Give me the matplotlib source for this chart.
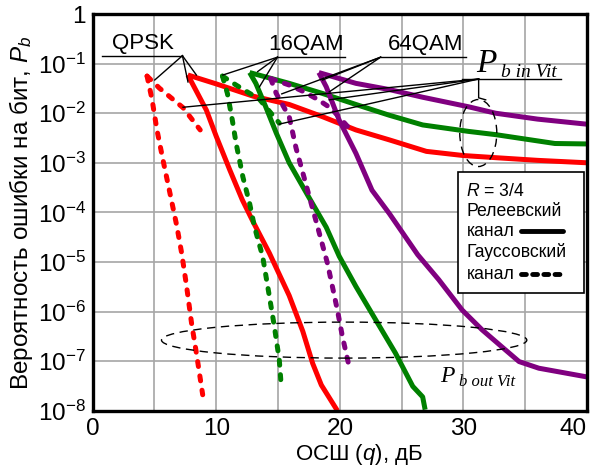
import matplotlib
matplotlib.use("Agg")
import matplotlib.pyplot as plt
from matplotlib.patches import Ellipse, Rectangle
from matplotlib.lines import Line2D

plt.rcParams['font.family'] = ['Liberation Sans', 'DejaVu Sans']
plt.rcParams['mathtext.fontset'] = 'custom'
plt.rcParams['mathtext.rm'] = 'Liberation Sans'
plt.rcParams['mathtext.it'] = 'Liberation Sans:italic'

# ================================================
# Data (x: SNR in dB, y: bit error probability)
# ================================================
# QPSK, Gaussian channel
qpsk_awgn_out_x = [4.4, 4.8, 5.2, 5.7, 6.2, 6.8, 7.2, 7.6, 8.0, 8.4, 8.9]
qpsk_awgn_out_y = [5.6e-2, 1.9e-2, 4.6e-3, 1.1e-3, 2.8e-4, 5.4e-5, 1.5e-5, 3.2e-6, 5.8e-7, 1.4e-7, 2.1e-8]
qpsk_awgn_in_x = [4.4, 5.4, 7.3, 8.7]
qpsk_awgn_in_y = [5.6e-2, 3.2e-2, 1.3e-2, 4.6e-3]
# QPSK, Rayleigh channel
qpsk_ray_out_x = [7.7, 9.2, 10.0, 11.1, 12.1, 13.0, 14.3, 15.9, 17.0, 17.8, 18.5, 19.8]
qpsk_ray_out_y = [5.9e-2, 1.15e-2, 3.4e-3, 7.1e-4, 1.8e-4, 6.3e-5, 1.5e-5, 2.1e-6, 4.0e-7, 9.0e-8, 3.3e-8, 1.0e-8]
qpsk_ray_in_x = [7.7, 10.0, 13.0, 15.9, 18.6, 21.3, 24.0, 27.0, 30.0, 33.0, 36.0, 40.0]
qpsk_ray_in_y = [5.9e-2, 3.9e-2, 2.2e-2, 1.5e-2, 8.5e-3, 4.6e-3, 2.9e-3, 1.7e-3, 1.4e-3, 1.25e-3, 1.12e-3, 1.0e-3]
# 16QAM, Gaussian channel
qam16_awgn_out_x = [10.5, 10.9, 11.3, 11.6, 12.15, 12.7, 13.1, 13.75, 14.3, 14.7, 15.1, 15.25]
qam16_awgn_out_y = [5.6e-2, 2.5e-2, 7.2e-3, 2.5e-3, 5.2e-4, 1.5e-4, 5.0e-5, 1.3e-5, 2.0e-6, 5.0e-7, 1.05e-7, 3.3e-8]
qam16_awgn_in_x = [10.5, 11.6, 13.5, 15.1]
qam16_awgn_in_y = [5.6e-2, 3.7e-2, 1.9e-2, 6.3e-3]
# 16QAM, Rayleigh channel
qam16_ray_out_x = [12.7, 13.2, 14.0, 14.85, 15.9, 17.5, 18.9, 19.95, 21.3, 22.9, 24.5, 25.9, 26.7, 26.9]
qam16_ray_out_y = [6.6e-2, 4.0e-2, 1.35e-2, 4.0e-3, 1.0e-3, 2.0e-4, 5.0e-5, 1.3e-5, 3.2e-6, 6.8e-7, 1.45e-7, 3.1e-8, 1.9e-8, 1.05e-8]
qam16_ray_in_x = [12.7, 15.9, 18.6, 21.3, 24.0, 26.7, 30.4, 32.6, 37.4, 40.0]
qam16_ray_in_y = [6.6e-2, 4.0e-2, 2.5e-2, 1.5e-2, 9.1e-3, 5.8e-3, 4.3e-3, 3.7e-3, 2.45e-3, 2.4e-3]
# 64QAM, Gaussian channel
qam64_awgn_out_x = [14.4, 14.85, 15.9, 16.45, 17.0, 17.5, 18.1, 19.0, 19.8, 20.2, 20.75]
qam64_awgn_out_y = [5.0e-2, 2.5e-2, 8.5e-3, 2.0e-3, 6.3e-4, 2.2e-4, 6.3e-5, 9.3e-6, 1.07e-6, 3.2e-7, 7.8e-8]
qam64_awgn_in_x = [14.4, 15.9, 17.1, 18.2, 19.3, 20.75]
qam64_awgn_in_y = [5.0e-2, 3.7e-2, 2.7e-2, 1.9e-2, 1.25e-2, 5.0e-3]
# 64QAM, Rayleigh channel
qam64_ray_out_x = [18.3, 18.9, 19.95, 21.3, 22.6, 24.0, 26.3, 28.0, 29.9, 31.5, 33.1, 34.5, 36.1, 40.0]
qam64_ray_out_y = [6.6e-2, 3.4e-2, 7.2e-3, 1.55e-3, 2.8e-4, 9.5e-5, 1.4e-5, 4.4e-6, 1.07e-6, 4.3e-7, 1.95e-7, 9.8e-8, 7.2e-8, 4.8e-8]
qam64_ray_in_x = [18.3, 21.3, 24.0, 26.7, 30.4, 32.6, 36.0, 40.0]
qam64_ray_in_y = [6.6e-2, 4.0e-2, 3.0e-2, 2.1e-2, 1.35e-2, 1.0e-2, 7.6e-3, 6.0e-3]

x_ticks = [0, 10, 20, 30, 40]
x_tick_labels = ['0', '10', '20', '30', '40']
y_ticks = [1, 1e-1, 1e-2, 1e-3, 1e-4, 1e-5, 1e-6, 1e-7, 1e-8]
y_tick_labels = ['1'] + ['$10^{-%d}$' % k for k in range(1, 9)]

RED, GREEN, PURPLE = '#ff0000', '#008000', '#800080'
SOLID = dict(lw=3.6, solid_capstyle='butt', solid_joinstyle='round')
DOTS = dict(lw=3.6, linestyle=(0, (1.0, 1.9)), dash_capstyle='round')

# ================================================
# Figure
# ================================================
fig = plt.figure(figsize=(5.95, 4.68), dpi=100)
ax = fig.add_axes([0.1558, 0.1224, 0.8308, 0.8476])
ax.set_yscale('log')
ax.set_xlim(0, 40)
ax.set_ylim(1e-8, 1)

curves = [
    (qpsk_awgn_out_x, qpsk_awgn_out_y, RED, DOTS),
    (qpsk_awgn_in_x, qpsk_awgn_in_y, RED, DOTS),
    (qpsk_ray_out_x, qpsk_ray_out_y, RED, SOLID),
    (qpsk_ray_in_x, qpsk_ray_in_y, RED, SOLID),
    (qam16_awgn_out_x, qam16_awgn_out_y, GREEN, DOTS),
    (qam16_awgn_in_x, qam16_awgn_in_y, GREEN, DOTS),
    (qam16_ray_out_x, qam16_ray_out_y, GREEN, SOLID),
    (qam16_ray_in_x, qam16_ray_in_y, GREEN, SOLID),
    (qam64_awgn_out_x, qam64_awgn_out_y, PURPLE, DOTS),
    (qam64_awgn_in_x, qam64_awgn_in_y, PURPLE, DOTS),
    (qam64_ray_out_x, qam64_ray_out_y, PURPLE, SOLID),
    (qam64_ray_in_x, qam64_ray_in_y, PURPLE, SOLID),
]
for xs, ys, c, st in curves:
    ax.plot(xs, ys, color=c, zorder=3, **st)

# grid: every 5 dB, every decade
ax.set_xticks(x_ticks)
ax.set_xticklabels(x_tick_labels)
ax.get_xticklabels()[-1].set_ha('right')
ax.set_xticks(range(5, 40, 10), minor=True)
ax.set_yticks(y_ticks)
ax.set_yticklabels(y_tick_labels)
ax.yaxis.set_minor_locator(matplotlib.ticker.NullLocator())
ax.grid(True, which='both', color='#a6a6a6', lw=1.2, zorder=0)
ax.tick_params(which='both', length=0, labelsize=17.5)
ax.tick_params(axis='x', pad=5)
ax.tick_params(axis='y', pad=5)
for s in ax.spines.values():
    s.set_linewidth(2.4)
    s.set_zorder(5)

ax.set_xlabel('ОСШ ($q$), дБ', fontsize=16)
ax.xaxis.set_label_coords(0.538, -0.079)
ax.set_ylabel('Вероятность ошибки на бит, $P_b$', fontsize=17.5)
ax.yaxis.set_label_coords(-0.117, 0.5)

# ================================================
# Annotations (data coordinates)
# ================================================
def pt(x, lg):
    return x, 10 ** lg

def fan(origin, targets):
    for t in targets:
        ax.plot([origin[0], t[0]], [origin[1], t[1]], color='black', lw=1.0, zorder=4)

# QPSK
ax.text(*pt(4.06, -0.70), 'QPSK', fontsize=16, ha='center', va='baseline')
ax.plot(*zip(pt(0.73, -0.84), pt(7.26, -0.84)), color='black', lw=1.0)
fan(pt(7.26, -0.84), [pt(5.02, -1.33), pt(7.71, -1.37), pt(8.39, -1.23)])

# 16QAM
ax.text(*pt(17.3, -0.73), '16QAM', fontsize=16, ha='center', va='baseline')
ax.plot(*zip(pt(14.9, -0.87), pt(20.4, -0.87)), color='black', lw=1.0)
fan(pt(14.95, -0.87), [pt(10.53, -1.23), pt(13.35, -1.16), pt(13.49, -1.47)])

# 64QAM
ax.text(*pt(26.9, -0.73), '64QAM', fontsize=16, ha='center', va='baseline')
ax.plot(*zip(pt(23.3, -0.87), pt(30.2, -0.87)), color='black', lw=1.0)
fan(pt(23.3, -0.87), [pt(15.3, -1.61), pt(18.6, -1.33), pt(19.14, -1.57)])

# P_b in Vit
ax.text(*pt(31.0, -1.16), 'P', fontsize=24, ha='left', va='baseline',
        family='Liberation Serif', style='italic')
ax.text(*pt(33.0, -1.26), 'b in Vit', fontsize=14, ha='left', va='baseline',
        family='Liberation Serif', style='italic')
ax.plot(*zip(pt(29.86, -1.31), pt(37.9, -1.31)), color='black', lw=1.0)
fan(pt(31.23, -1.31), [pt(7.31, -1.88), pt(15.1, -2.22), pt(19.14, -1.73)])
ax.plot(*zip(pt(31.23, -1.31), pt(31.23, -1.69), pt(31.8, -1.73)), color='black', lw=1.0)

# P_b out Vit
ax.text(*pt(28.1, -7.42), 'P', fontsize=17, ha='left', va='baseline',
        family='Liberation Serif', style='italic')
ax.text(*pt(29.6, -7.50), 'b out Vit', fontsize=12, ha='left', va='baseline',
        family='Liberation Serif', style='italic')

# dashed ellipses (axes coordinates)
ax.add_patch(Ellipse((0.5087, 0.178), 0.739, 0.0907, transform=ax.transAxes,
                     fill=False, ls=(0, (6, 4)), lw=1.0, color='black', zorder=4))
ax.add_patch(Ellipse((0.780, 0.700), 0.0749, 0.169, transform=ax.transAxes,
                     fill=False, ls=(0, (6, 4)), lw=1.0, color='black', zorder=4))

# ================================================
# Legend box
# ================================================
ax.add_patch(Rectangle((0.738, 0.2975), 0.256, 0.305, transform=ax.transAxes,
                       facecolor='white', edgecolor='black', lw=1.2, zorder=6))
tx = 0.756
lfs = 12.7
ax.text(tx, 0.552, '$R$ = 3/4', transform=ax.transAxes, fontsize=lfs, va='center', zorder=7)
ax.text(tx, 0.502, 'Релеевский', transform=ax.transAxes, fontsize=lfs, va='center', zorder=7)
ax.text(tx, 0.451, 'канал', transform=ax.transAxes, fontsize=lfs, va='center', zorder=7)
ax.text(tx, 0.401, 'Гауссовский', transform=ax.transAxes, fontsize=lfs, va='center', zorder=7)
ax.text(tx, 0.344, 'канал', transform=ax.transAxes, fontsize=lfs, va='center', zorder=7)
ax.add_line(Line2D([0.866, 0.952], [0.453, 0.453], transform=ax.transAxes,
                   color='black', lw=3.5, solid_capstyle='round', zorder=7))
ax.add_line(Line2D([0.866, 0.952], [0.345, 0.345], transform=ax.transAxes,
                   color='black', lw=3.5, linestyle=(0, (1.0, 1.3)),
                   dash_capstyle='round', zorder=7))

fig.savefig('out.png', dpi=100)
